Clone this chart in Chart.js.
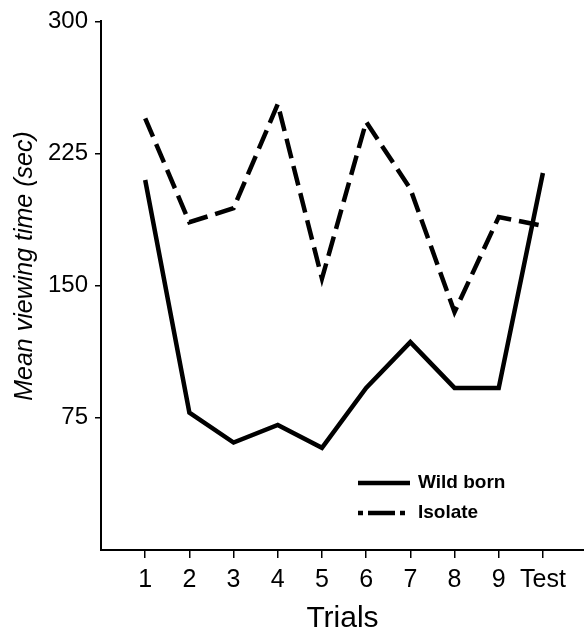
<!DOCTYPE html>
<html>
<head>
<meta charset="utf-8">
<script src="https://cdn.jsdelivr.net/npm/chart.js@4/dist/chart.umd.min.js"></script>
<style>
  html, body { margin: 0; padding: 0; background: #fff; }
  #wrap { width: 584px; height: 637px; }
</style>
</head>
<body>
<div id="wrap"><canvas id="chart"></canvas></div>
<script>
// values
const trials = ['1', '2', '3', '4', '5', '6', '7', '8', '9', 'Test']
const wildBorn = [210, 78, 61, 71, 58, 92, 118, 92, 92, 214]
const isolate = [245, 186, 194, 253, 154, 243, 205, 135, 189, 184]
const yTicks = [75, 150, 225, 300]
const seriesNames = ['Wild born', 'Isolate']

const toPoints = (vals) => vals.map((v, i) => ({ x: i + 1, y: v }))

// y title drawn by hand so it can sit a bit above centre like the original
const yTitlePlugin = {
  id: 'yTitle',
  afterDraw(chart) {
    const ctx = chart.ctx
    ctx.save()
    ctx.translate(25, 266)
    ctx.rotate(-Math.PI / 2)
    ctx.font = 'italic 25px "Liberation Sans", sans-serif'
    ctx.fillStyle = '#000'
    ctx.textAlign = 'center'
    ctx.textBaseline = 'middle'
    ctx.fillText('Mean viewing time (sec)', 0, 0)
    ctx.restore()
  }
}

// legend sits inside the plot, lower right
const legendPlugin = {
  id: 'innerLegend',
  afterDraw(chart) {
    const ctx = chart.ctx
    const ca = chart.chartArea
    const x0 = ca.left + 257
    const rows = [
      { y: 483, dash: [] },
      { y: 513, dash: [5, 5, 27, 5, 5] }
    ]
    ctx.save()
    ctx.strokeStyle = '#000'
    ctx.fillStyle = '#000'
    ctx.lineWidth = 4.5
    ctx.font = 'bold 19px "Liberation Sans", sans-serif'
    ctx.textBaseline = 'middle'
    rows.forEach((r, i) => {
      ctx.setLineDash(r.dash)
      ctx.beginPath()
      ctx.moveTo(x0, r.y)
      ctx.lineTo(x0 + 52, r.y)
      ctx.stroke()
      ctx.fillText(seriesNames[i], x0 + 60, r.y)
    })
    ctx.restore()
  }
}

new Chart(document.getElementById('chart').getContext('2d'), {
  type: 'line',
  data: {
    datasets: [
      {
        label: seriesNames[0],
        data: toPoints(wildBorn),
        borderColor: '#000',
        borderWidth: 4.5,
        borderJoinStyle: 'miter',
        pointRadius: 0,
        tension: 0
      },
      {
        label: seriesNames[1],
        data: toPoints(isolate),
        borderColor: '#000',
        borderWidth: 4.5,
        borderDash: [20, 8],
        borderJoinStyle: 'miter',
        pointRadius: 0,
        tension: 0
      }
    ]
  },
  options: {
    responsive: true,
    maintainAspectRatio: false,
    animation: false,
    layout: { padding: { top: 20, right: 0, left: 0, bottom: 0 } },
    plugins: {
      legend: { display: false },
      tooltip: { enabled: false }
    },
    scales: {
      x: {
        type: 'linear',
        min: 0,
        max: 10.93,
        afterBuildTicks: (s) => { s.ticks = trials.map((_, i) => ({ value: i + 1 })) },
        afterFit: (s) => { s.height = 87 },
        border: { display: true, color: '#000', width: 2 },
        grid: { drawOnChartArea: false, drawTicks: true, tickLength: 8, color: '#000', lineWidth: 1.5 },
        ticks: {
          autoSkip: false,
          maxRotation: 0,
          padding: 7,
          color: '#000',
          font: { family: '"Liberation Sans", sans-serif', size: 25 },
          callback: (v) => trials[v - 1]
        },
        title: {
          display: true,
          text: 'Trials',
          color: '#000',
          padding: { top: 6, bottom: 0 },
          font: { family: '"Liberation Sans", sans-serif', size: 30 }
        }
      },
      y: {
        min: 0,
        max: 300,
        afterBuildTicks: (s) => { s.ticks = yTicks.map((v) => ({ value: v })) },
        afterFit: (s) => { s.width = 101 },
        border: { display: true, color: '#000', width: 2 },
        grid: { drawOnChartArea: false, drawTicks: true, tickLength: 6, color: '#000', lineWidth: 1.5 },
        ticks: {
          padding: 7,
          color: '#000',
          font: { family: '"Liberation Sans", sans-serif', size: 24 }
        }
      }
    }
  },
  plugins: [yTitlePlugin, legendPlugin]
})
</script>
</body>
</html>
